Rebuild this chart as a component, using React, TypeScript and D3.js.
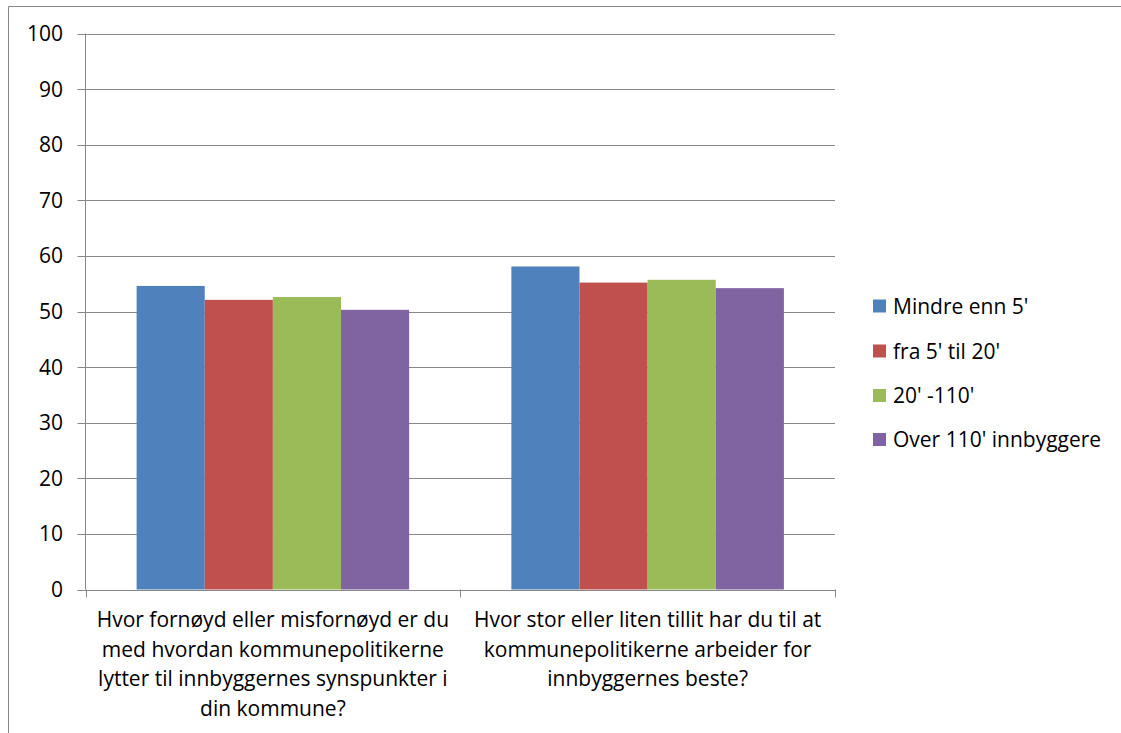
import { useEffect, useRef } from "react";
import * as d3 from "d3";

const categories = [
  [
    "Hvor fornøyd eller misfornøyd er du",
    "med hvordan kommunepolitikerne",
    "lytter til innbyggernes synspunkter i",
    "din kommune?",
  ],
  [
    "Hvor stor eller liten tillit har du til at",
    "kommunepolitikerne arbeider for",
    "innbyggernes beste?",
  ],
];
const seriesNames = ["Mindre enn 5'", "fra 5' til 20'", "20' -110'", "Over 110' innbyggere"];
const seriesColors = ["#4f81bd", "#c0504d", "#9bbb59", "#8064a2"];
const values = [
  [54.6, 52.1, 52.6, 50.3],
  [58.1, 55.2, 55.7, 54.2],
];
const yTicks = [0, 10, 20, 30, 40, 50, 60, 70, 80, 90, 100];

const FONT = "'Open Sans', Lato, sans-serif";
const FS = 21;

export default function App() {
  const svgRef = useRef<SVGSVGElement>(null);

  useEffect(() => {
    if (!svgRef.current) return;
    const width = 1121;
    const height = 733;
    const svg = d3.select(svgRef.current);
    svg.selectAll("*").remove();

    const left = 85.5;
    const right = 835;
    const top = 33.5;
    const bottom = 589.5;

    // chart border
    svg.append("path")
      .attr("d", `M8.5,${height} V6.5 H${width}`)
      .attr("fill", "none")
      .attr("stroke", "#868686")
      .attr("stroke-width", 1);

    const y = d3.scaleLinear().domain([0, 100]).range([bottom, top]);
    const x0 = d3.scaleBand<number>().domain(categories.map((_, i) => i)).range([left, right]);
    const bw = x0.bandwidth();
    const inner = bw / 5.5;
    const x1 = d3
      .scaleBand<number>()
      .domain(seriesNames.map((_, i) => i))
      .range([(bw - inner * 4) / 2, (bw + inner * 4) / 2]);

    const g = svg.append("g");

    yTicks.forEach((t) => {
      g.append("line")
        .attr("x1", left - 8)
        .attr("x2", right)
        .attr("y1", Math.round(y(t)) + 0.5)
        .attr("y2", Math.round(y(t)) + 0.5)
        .attr("stroke", "#888")
        .attr("stroke-width", 1);
      g.append("text")
        .attr("x", 63)
        .attr("y", y(t))
        .attr("dy", "0.36em")
        .attr("text-anchor", "end")
        .attr("font-family", FONT)
        .attr("font-size", FS)
        .attr("fill", "#000")
        .text(t);
    });

    // y axis
    g.append("line")
      .attr("x1", left)
      .attr("x2", left)
      .attr("y1", top)
      .attr("y2", bottom)
      .attr("stroke", "#888");

    // category ticks on x axis
    [left, left + bw, right].forEach((xx) => {
      g.append("line")
        .attr("x1", Math.round(xx) + 0.5)
        .attr("x2", Math.round(xx) + 0.5)
        .attr("y1", bottom)
        .attr("y2", bottom + 8)
        .attr("stroke", "#888");
    });

    values.forEach((row, ci) => {
      row.forEach((v, si) => {
        g.append("rect")
          .attr("x", (x0(ci) ?? 0) + (x1(si) ?? 0))
          .attr("y", y(v))
          .attr("width", x1.bandwidth())
          .attr("height", y(0) - y(v))
          .attr("fill", seriesColors[si]);
      });
      const cx = (x0(ci) ?? 0) + bw / 2;
      categories[ci].forEach((line, li) => {
        g.append("text")
          .attr("x", cx)
          .attr("y", 627 + li * 29.5)
          .attr("text-anchor", "middle")
          .attr("font-family", FONT)
          .attr("font-size", FS)
          .attr("fill", "#000")
          .text(line);
      });
    });

    const legend = svg.append("g").attr("transform", "translate(873,0)");
    const legendY = [306, 351, 395.5, 439.5];
    seriesNames.forEach((name, i) => {
      legend.append("rect")
        .attr("x", 0)
        .attr("y", legendY[i] - 6.5)
        .attr("width", 13)
        .attr("height", 13)
        .attr("fill", seriesColors[i]);
      legend.append("text")
        .attr("x", 20)
        .attr("y", legendY[i])
        .attr("dy", "0.36em")
        .attr("font-family", FONT)
        .attr("font-size", FS)
        .attr("fill", "#000")
        .text(name);
    });

    svg.attr("width", width).attr("height", height);
  }, []);

  return (
    <svg
      ref={svgRef}
      style={{ position: "absolute", left: 0, top: 0, display: "block", background: "#fff" }}
    />
  );
}
